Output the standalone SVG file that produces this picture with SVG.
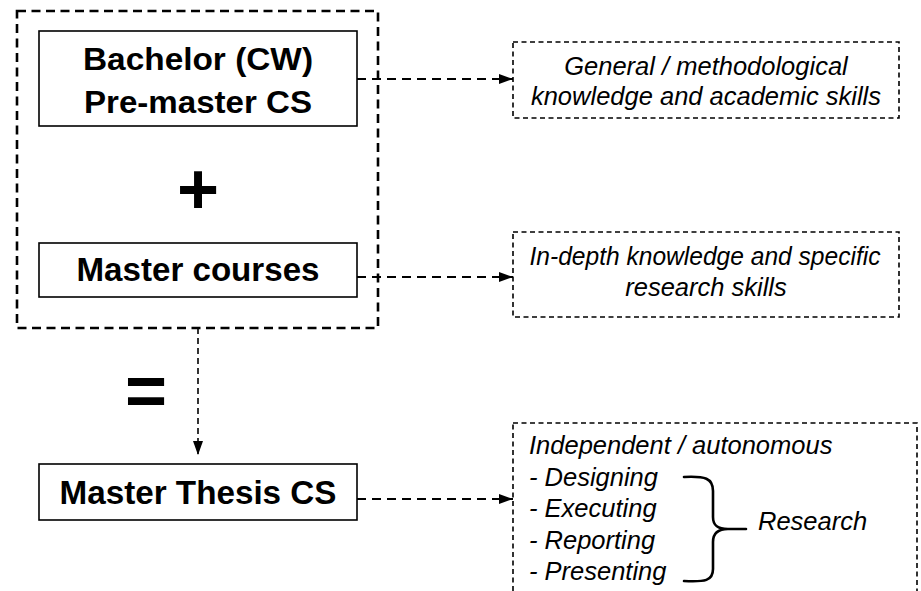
<svg xmlns="http://www.w3.org/2000/svg" width="921" height="591" viewBox="0 0 921 591">
<style>
.bg{fill:#ffffff}
.box{fill:#ffffff;stroke:#000;stroke-width:1.6}
.dbox{fill:none;stroke:#000;stroke-width:1.6;stroke-dasharray:5 3.5}
.outer{fill:none;stroke:#000;stroke-width:2.6;stroke-dasharray:9 5.5}
.conn{fill:none;stroke:#000;stroke-width:2.2;stroke-dasharray:9 6}
.vconn{fill:none;stroke:#000;stroke-width:1.6;stroke-dasharray:6 4}
.bold{font-family:"Liberation Sans",Arial,sans-serif;font-weight:bold;fill:#000}
.it{font-family:"Liberation Sans",Arial,sans-serif;font-style:italic;font-size:25.5px;fill:#000}
.brace{fill:none;stroke:#000;stroke-width:2.6;stroke-linecap:round}
</style>
<defs>
<marker id="ah" viewBox="0 0 14 10" refX="14" refY="5" markerWidth="14" markerHeight="10" markerUnits="userSpaceOnUse" orient="auto">
<path d="M0,0 L14,5 L0,10 z" fill="#000"/>
</marker>
</defs>
<rect class="bg" x="0" y="0" width="921" height="591"/>

<g id="group-left">
<rect class="outer" x="17" y="11" width="361" height="317"/>
</g>

<g id="node-bachelor">
<rect class="box" x="39" y="31" width="318" height="95"/>
<text class="bold" x="198" y="70" font-size="30.5" text-anchor="middle" textLength="230" lengthAdjust="spacingAndGlyphs">Bachelor (CW)</text>
<text class="bold" x="198" y="113" font-size="30.5" text-anchor="middle" textLength="228" lengthAdjust="spacingAndGlyphs">Pre-master CS</text>
</g>

<g id="plus">
<text class="bold" x="198" y="214" font-size="72" text-anchor="middle">+</text>
</g>

<g id="node-master-courses">
<rect class="box" x="39" y="243" width="318" height="54"/>
<text class="bold" x="198" y="281" font-size="33" text-anchor="middle" textLength="243" lengthAdjust="spacingAndGlyphs">Master courses</text>
</g>

<g id="equals">
<text class="bold" x="146" y="415" font-size="72" text-anchor="middle">=</text>
</g>

<g id="node-thesis">
<rect class="box" x="39" y="464" width="318" height="56"/>
<text class="bold" x="198" y="504" font-size="33" text-anchor="middle" textLength="277" lengthAdjust="spacingAndGlyphs">Master Thesis CS</text>
</g>

<g id="node-general">
<rect class="dbox" x="513" y="42" width="386" height="76"/>
<text class="it" x="706" y="75" text-anchor="middle">General / methodological</text>
<text class="it" x="706" y="105" text-anchor="middle">knowledge and academic skills</text>
</g>

<g id="node-indepth">
<rect class="dbox" x="513" y="232" width="386" height="85"/>
<text class="it" x="705" y="265" text-anchor="middle" textLength="351" lengthAdjust="spacingAndGlyphs">In-depth knowledge and specific</text>
<text class="it" x="706" y="296" text-anchor="middle">research skills</text>
</g>

<g id="node-research">
<rect class="dbox" x="513" y="423" width="404" height="190"/>
<text class="it" x="529" y="454">Independent / autonomous</text>
<text class="it" x="529" y="486">- Designing</text>
<text class="it" x="529" y="517">- Executing</text>
<text class="it" x="529" y="549">- Reporting</text>
<text class="it" x="529" y="580">- Presenting</text>
<path class="brace" d="M684,477 C705,476 713,478 713,491 L713,517 C713,526 718,529 728,529 L746,529 M728,529 C718,529 713,533 713,542 L713,569 C713,581 705,582 684,581"/>
<text class="it" x="758" y="530">Research</text>
</g>

<g id="connectors">
<line class="conn" x1="357" y1="79" x2="513" y2="79" marker-end="url(#ah)"/>
<line class="conn" x1="357" y1="277" x2="513" y2="277" marker-end="url(#ah)"/>
<line class="conn" x1="357" y1="499" x2="513" y2="499" marker-end="url(#ah)"/>
<line class="vconn" x1="198" y1="328" x2="198" y2="455" marker-end="url(#ah)"/>
</g>
</svg>
